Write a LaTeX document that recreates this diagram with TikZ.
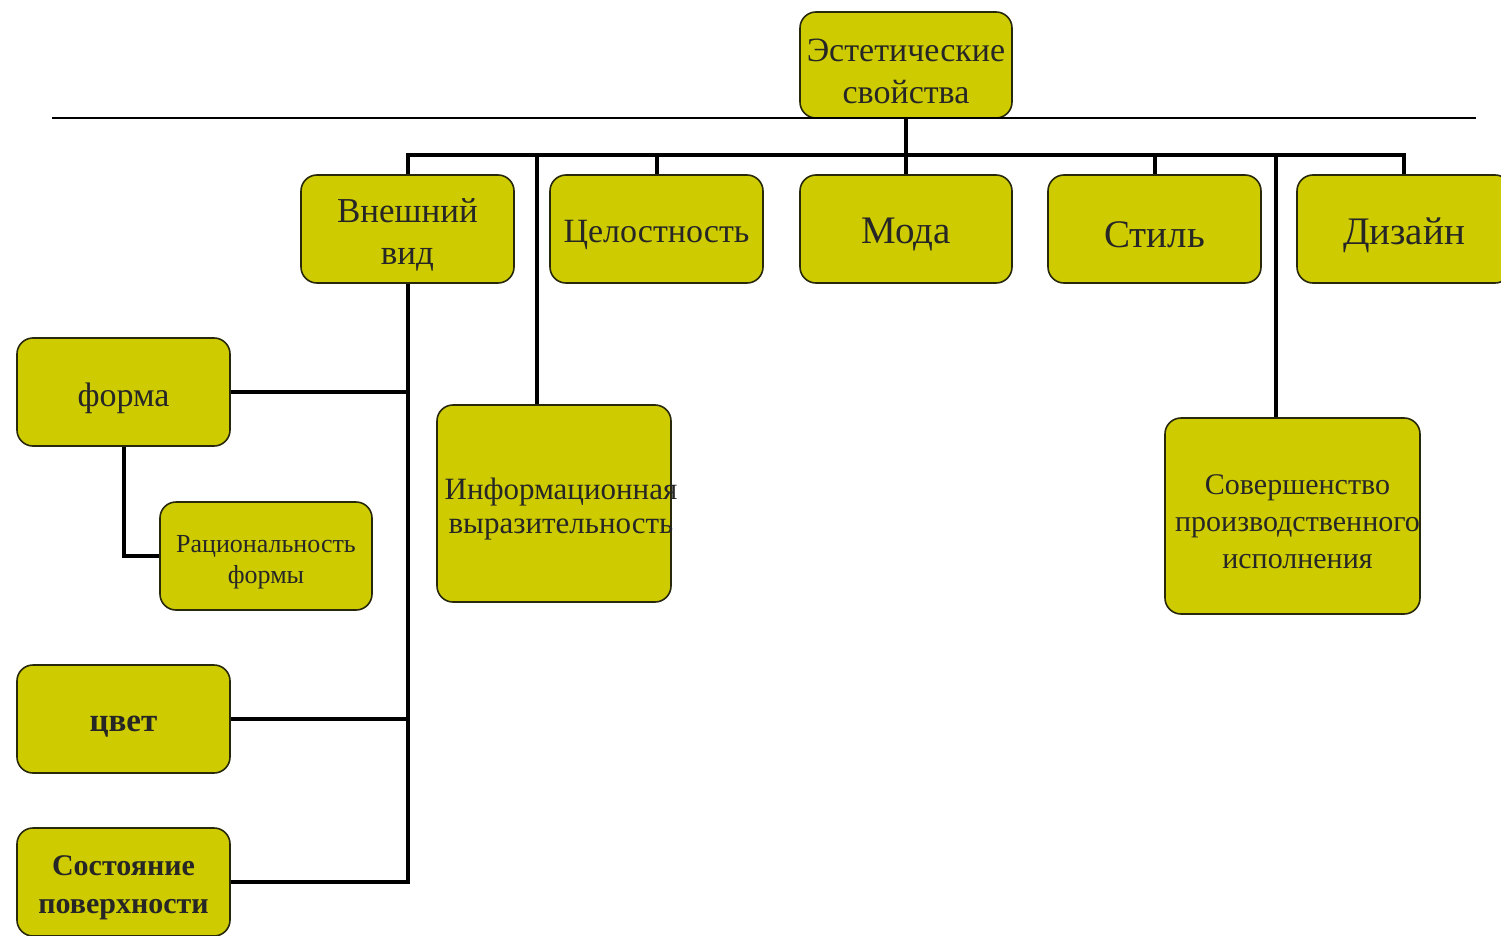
\documentclass[tikz,border=0pt]{standalone}
\usepackage{fontspec}
\setmainfont{Liberation Serif}
\definecolor{boxfill}{RGB}{206,204,0}
\definecolor{boxline}{RGB}{40,40,10}
\tikzset{
  box/.style={draw=boxline, line width=1.6pt, fill=boxfill, rounded corners=16pt,
    inner sep=0pt},
  lab/.style={align=center, yshift=-6pt, inner sep=0pt, text=black!85},
  conn/.style={line width=4pt, black},
}
\begin{document}
\begin{tikzpicture}[x=1pt,y=-1pt]
\useasboundingbox (0,0) rectangle (1501,936);
% nodes
\node[box, minimum width=212pt, minimum height=106pt,
  label={[lab, font=\fontsize{34}{42}\selectfont]center:{Эстетические\\свойства}}] (top) at (906,65) {};
\node[box, minimum width=213pt, minimum height=108pt,
  label={[lab, font=\fontsize{35}{42}\selectfont]center:{Внешний\\вид}}] (vn) at (407.5,229) {};
\node[box, minimum width=213pt, minimum height=108pt,
  label={[lab, font=\fontsize{34}{40}\selectfont]center:{Целостность}}] (cel) at (656.5,229) {};
\node[box, minimum width=212pt, minimum height=108pt,
  label={[lab, font=\fontsize{39}{40}\selectfont]center:{Мода}}] (moda) at (906,229) {};
\node[box, minimum width=213pt, minimum height=108pt,
  label={[lab, font=\fontsize{39}{40}\selectfont]center:{Стиль}}] (stil) at (1154.5,229) {};
\node[box, minimum width=214pt, minimum height=108pt,
  label={[lab, font=\fontsize{39}{40}\selectfont]center:{Дизайн}}] (dz) at (1404,229) {};
\node[box, minimum width=213pt, minimum height=108pt,
  label={[lab, font=\fontsize{34}{40}\selectfont]center:{форма}}] (forma) at (123.5,392) {};
\node[box, minimum width=212pt, minimum height=108pt,
  label={[lab, font=\fontsize{26}{31}\selectfont]center:{Рациональность\\формы}}] (rac) at (266,556) {};
\node[box, minimum width=213pt, minimum height=108pt,
  label={[lab, yshift=-2pt, font=\fontsize{33}{40}\selectfont\bfseries]center:{цвет}}] (cvet) at (123.5,719) {};
\node[box, minimum width=213pt, minimum height=108pt,
  label={[lab, font=\fontsize{30}{38}\selectfont\bfseries]center:{Состояние\\поверхности}}] (sost) at (123.5,882) {};
\node[box, minimum width=234pt, minimum height=197pt,
  label={[lab, xshift=7pt, font=\fontsize{31}{34}\selectfont]center:{Информационная\\выразительность}}] (info) at (554,503.5) {};
\node[box, minimum width=255pt, minimum height=196pt,
  label={[lab, xshift=5pt, font=\fontsize{30}{37}\selectfont]center:{Совершенство\\производственного\\исполнения}}] (sov) at (1292.5,516) {};
% coordinates
\coordinate (hl) at (52,118);
\coordinate (hr) at (1476,118);
\coordinate (bus) at (906,155);
\coordinate (ib) at (537,155);
\coordinate (sb) at (1276,155);
% connectors
\draw[line width=2pt] (hl) -- (hr);
\draw[conn] (top.south) -- (bus);
\draw[conn] (vn.north) |- (bus) -| (dz.north);
\draw[conn] (cel.north) -- (cel.north |- bus);
\draw[conn] (moda.north) -- (bus);
\draw[conn] (stil.north) -- (stil.north |- bus);
\draw[conn] (ib) -- (ib |- info.north);
\draw[conn] (sb) -- (sb |- sov.north);
\draw[conn] (vn.south) -- (vn.south |- sost.east) -- (sost.east);
\draw[conn] (forma.east) -- (forma.east -| vn.south);
\draw[conn] (cvet.east) -- (cvet.east -| vn.south);
\draw[conn] (forma.south) |- (rac.west);
\end{tikzpicture}
\end{document}
